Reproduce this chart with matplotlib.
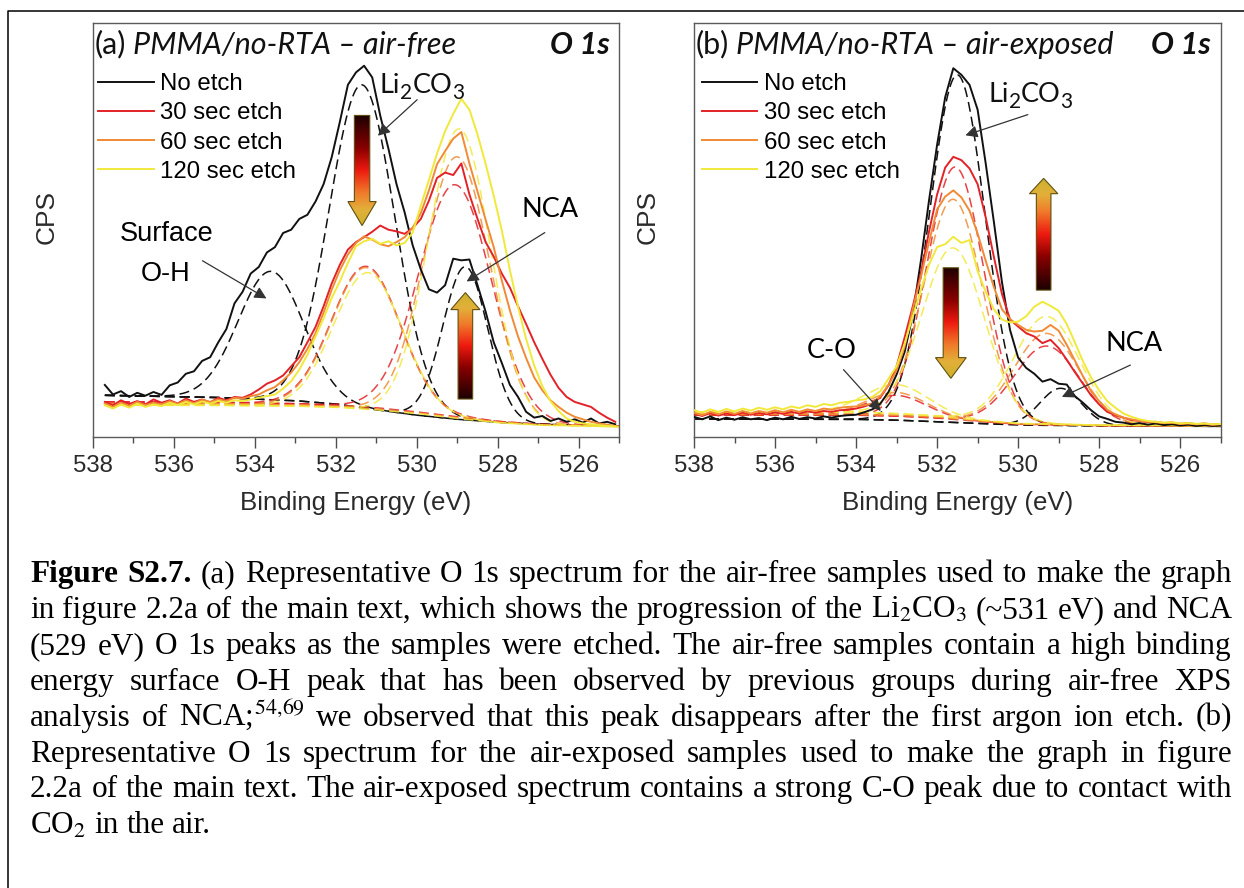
import matplotlib
matplotlib.use("Agg")
import matplotlib.pyplot as plt
import numpy as np
from matplotlib.colors import LinearSegmentedColormap
from matplotlib.lines import Line2D
from matplotlib.patches import Polygon
from matplotlib.ticker import MultipleLocator

W, H = 1244, 888

# energy axes, 0.2 eV acquisition step
EV_A = np.round(np.arange(537.7, 525.0, -0.2), 1)
EV_B = np.round(np.arange(538.0, 524.9, -0.2), 1)

LABELS = ["No etch", "30 sec etch", "60 sec etch", "120 sec etch"]
COLORS = ["#111111", "#e32228", "#f08a35", "#f1e93a"]

# (a) air-free, CPS in arbitrary units (0 = axis, 100 = top)
NOETCH_A = [12.5, 10.2, 11.0, 9.6, 10.6, 9.9, 10.8, 10.1, 12.4,
            13.1, 15.2, 15.8, 18.3, 19.2, 22.8, 26.0, 32.2, 35.0, 39.4,
            41.0, 44.5, 45.8, 49.2, 50.0, 52.6, 53.6, 56.8, 61.0, 67.5,
            76.0, 85.0, 88.0, 89.6, 86.8, 77.5, 69.6, 61.0, 54.2, 46.2,
            40.4, 35.6, 34.8, 36.6, 43.0, 42.6, 42.8, 36.6, 30.2, 22.8,
            17.8, 12.5, 9.6, 6.0, 4.6, 5.0, 3.8, 4.4, 3.6, 4.2,
            3.4, 4.4, 3.2, 3.6, 3.0]
ETCH30_A = [8.4, 7.6, 8.8, 7.9, 8.6, 7.8, 9.0, 8.2, 8.8,
            8.0, 9.2, 8.4, 9.0, 8.3, 9.4, 8.8, 9.6, 9.4, 10.2,
            11.4, 12.8, 13.6, 14.8, 17.0, 19.2, 22.8, 26.5, 31.5, 37.0,
            41.5, 45.2, 47.0, 48.2, 49.5, 51.0, 50.0, 49.6, 49.0, 50.4,
            52.6, 57.0, 62.5, 63.8, 63.2, 66.0, 58.5, 52.6, 47.0, 43.5,
            39.4, 36.0, 31.5, 27.2, 22.8, 18.8, 15.0, 11.8, 9.6, 8.4,
            7.8, 7.2, 5.8, 4.6, 3.6]
ETCH60_A = [8.0, 7.2, 8.2, 7.4, 8.4, 7.6, 8.2, 7.8, 8.6,
            7.9, 8.8, 8.1, 8.9, 8.4, 9.0, 8.6, 9.4, 9.2, 9.8,
            10.2, 11.2, 12.0, 13.6, 15.5, 18.0, 21.2, 25.0, 30.0, 35.5,
            40.2, 44.0, 46.8, 48.4, 47.6, 46.5, 46.0, 47.0, 48.2, 50.5,
            54.0, 59.5, 65.8, 69.0, 72.0, 73.6, 66.0, 59.2, 52.4, 45.8,
            37.7, 30.5, 24.2, 19.0, 14.3, 11.2, 8.8, 7.2, 5.8, 4.8,
            4.2, 3.6, 3.2, 2.9, 2.6]
ETCH120_A = [7.6, 6.8, 7.8, 7.0, 8.0, 7.2, 7.8, 7.4, 8.2,
             7.6, 8.4, 7.8, 8.5, 8.0, 8.6, 8.2, 8.8, 8.6, 9.0,
             9.4, 9.8, 10.2, 11.6, 13.4, 16.2, 19.8, 24.2, 28.6, 33.5,
             37.5, 42.0, 46.0, 47.2, 47.8, 46.6, 47.2, 46.2, 46.8, 49.3,
             55.8, 62.0, 68.4, 73.8, 78.0, 81.6, 79.0, 73.0, 65.9, 58.2,
             49.8, 40.2, 31.4, 23.6, 17.2, 12.2, 8.6, 6.2, 4.4, 3.6,
             3.2, 3.0, 2.8, 2.6, 2.5]

# (b) air-exposed
NOETCH_B = [4.8, 4.2, 4.9, 4.0, 4.6, 4.1, 4.7, 4.2, 4.5, 4.0,
            4.6, 4.2, 4.8, 4.3, 4.7, 4.4, 4.9, 4.6, 5.0, 5.2,
            5.3, 5.9, 6.6, 8.0, 10.8, 15.0, 20.5, 29.5, 42.5, 57.0,
            70.5, 82.0, 89.0, 87.4, 85.0, 79.0, 66.0, 52.0, 37.4, 25.8,
            19.1, 16.6, 15.2, 13.3, 13.9, 12.8, 12.6, 9.8, 8.2, 6.4,
            4.9, 4.3, 3.6, 3.4, 3.0, 3.3, 2.9, 3.2, 2.8, 3.0,
            2.7, 2.9, 2.6, 2.8, 2.6, 2.7]
ETCH30_B = [5.6, 5.0, 5.7, 5.1, 5.6, 5.2, 5.8, 5.3, 5.7, 5.4,
            5.9, 5.5, 6.0, 5.6, 6.1, 5.8, 6.2, 6.0, 6.4, 6.5,
            6.8, 7.3, 8.0, 9.5, 12.4, 17.0, 24.0, 31.5, 39.5, 49.5,
            58.5, 65.0, 67.6, 66.8, 64.8, 61.0, 53.0, 43.5, 34.5, 28.3,
            26.6, 25.0, 24.2, 22.6, 23.4, 21.4, 18.6, 15.6, 12.8, 10.0,
            7.8, 6.0, 5.2, 4.6, 4.0, 3.8, 3.5, 3.6, 3.3, 3.4,
            3.1, 3.3, 3.0, 3.2, 2.9, 3.1]
ETCH60_B = [5.8, 5.2, 6.0, 5.4, 6.1, 5.5, 6.2, 5.6, 6.2, 5.8,
            6.4, 5.9, 6.5, 6.0, 6.6, 6.2, 6.8, 6.5, 7.0, 7.2,
            7.3, 7.6, 8.0, 9.8, 12.5, 16.0, 21.8, 30.8, 38.6, 47.0,
            54.9, 58.0, 59.5, 57.8, 54.6, 49.1, 42.5, 36.2, 30.8, 28.4,
            27.0, 25.8, 25.4, 25.6, 27.0, 25.6, 22.2, 18.4, 14.6, 11.0,
            8.6, 6.5, 5.4, 4.6, 4.2, 3.8, 3.6, 3.5, 3.3, 3.4,
            3.1, 3.2, 3.0, 3.1, 2.9, 3.0]
ETCH120_B = [6.4, 5.8, 6.6, 6.0, 6.7, 6.1, 6.8, 6.3, 7.0, 6.5,
             7.1, 6.6, 7.3, 6.9, 7.6, 7.2, 7.9, 7.6, 8.2, 8.4,
             8.8, 9.0, 9.6, 11.0, 14.0, 17.0, 22.5, 29.1, 35.5, 41.5,
             45.8, 46.5, 48.3, 46.8, 47.5, 40.0, 35.0, 30.8, 28.3, 27.6,
             27.8, 29.1, 31.4, 32.6, 31.6, 30.4, 27.2, 22.8, 18.2, 14.3,
             11.2, 8.6, 7.0, 5.6, 4.8, 4.2, 3.8, 3.6, 3.4, 3.5,
             3.2, 3.3, 3.1, 3.2, 3.0, 3.1]

# fit backgrounds (knots) and components: (centre eV, height, FWHM eV)
BG_A_EV = [537.7, 535.0, 533.0, 532.0, 531.0, 530.0, 529.0, 528.0, 527.0, 525.0]
BG_A_NOETCH = [10.0, 9.5, 8.7, 7.9, 6.5, 5.2, 4.2, 3.5, 3.0, 2.6]
BG_A_30 = [8.4, 8.3, 8.0, 7.6, 7.0, 6.0, 4.8, 3.7, 3.0, 2.6]
BG_A_60 = [8.0, 7.9, 7.7, 7.3, 6.7, 5.8, 4.6, 3.5, 2.9, 2.5]
BG_A_120 = [7.6, 7.6, 7.4, 7.1, 6.5, 5.6, 4.4, 3.4, 2.8, 2.4]
FIT_A_NOETCH = [(533.6, 31.0, 1.9), (531.35, 78.0, 1.9), (528.8, 37.0, 1.3)]
FIT_A_30 = [(531.25, 34.0, 2.0), (529.05, 56.0, 2.1)]
FIT_A_60 = [(531.25, 34.0, 2.0), (529.0, 63.0, 1.9)]
FIT_A_120 = [(531.2, 33.0, 2.0), (528.95, 70.0, 1.8)]

BG_B_EV = [538.0, 534.0, 533.0, 532.0, 531.0, 530.0, 528.0, 525.0]
BG_B_NOETCH = [4.3, 4.2, 4.0, 3.6, 3.2, 2.8, 2.6, 2.5]
BG_B_30 = [5.2, 5.2, 5.0, 4.5, 3.7, 3.0, 2.7, 2.6]
BG_B_60 = [5.4, 5.4, 5.2, 4.7, 3.8, 3.1, 2.7, 2.6]
BG_B_120 = [6.0, 6.0, 5.6, 5.0, 4.0, 3.2, 2.8, 2.7]
FIT_B_NOETCH = [(531.5, 84.0, 1.6), (528.95, 9.0, 1.2)]
FIT_B_30 = [(533.0, 5.0, 1.7), (531.55, 61.0, 1.65), (529.3, 19.0, 1.9)]
FIT_B_60 = [(533.0, 5.5, 1.7), (531.6, 53.0, 1.7), (529.3, 22.0, 1.9)]
FIT_B_120 = [(533.0, 7.0, 1.8), (531.6, 41.0, 1.8), (529.3, 26.0, 1.9)]

CAPTION = [
    "Figure S2.7. (a) Representative O 1s spectrum for the air-free samples used to make the graph",
    r"in figure 2.2a of the main text, which shows the progression of the Li$_2$CO$_3$ (~531 eV) and NCA",
    "(529 eV) O 1s peaks as the samples were etched. The air-free samples contain a high binding",
    "energy surface O-H peak that has been observed by previous groups during air-free XPS",
    r"analysis of NCA;$^{54,\!69}$ we observed that this peak disappears after the first argon ion etch. (b)",
    "Representative O 1s spectrum for the air-exposed samples used to make the graph in figure",
    "2.2a of the main text. The air-exposed spectrum contains a strong C-O peak due to contact with",
    r"CO$_2$ in the air.",
]
BOLD_WORDS = {"Figure", "S2.7."}

SANS = "Liberation Sans"
CAL = "Lato"
DASH = (0, (6.5, 3.3))
ARROW_CMAP = LinearSegmentedColormap.from_list(
    "etch", [(0.0, "#1c0000"), (0.3, "#8a0000"), (0.5, "#ee1a10"),
             (0.7, "#f07a2a"), (0.85, "#e2b03a"), (1.0, "#cdb02c")])


def gauss(x, c, h, w):
    return h * np.exp(-4 * np.log(2) * ((x - c) / w) ** 2)


def grad_arrow(ax, x, y_tail, y_tip, y_head, hw_shaft, hw_head):
    verts = [(x - hw_shaft, y_tail), (x + hw_shaft, y_tail), (x + hw_shaft, y_head),
             (x + hw_head, y_head), (x, y_tip), (x - hw_head, y_head), (x - hw_shaft, y_head)]
    poly = Polygon(verts, closed=True, fc="none", ec="#5f5010", lw=0.8, zorder=6)
    ax.add_patch(poly)
    ramp = np.linspace(0, 1, 256).reshape(-1, 1)
    origin = "upper" if y_tail > y_tip else "lower"
    img = ax.imshow(ramp, cmap=ARROW_CMAP, origin=origin, aspect="auto", zorder=5,
                    extent=(x + hw_head, x - hw_head, min(y_tail, y_tip), max(y_tail, y_tip)))
    img.set_clip_path(poly)


def pointer(ax, text_xy, tip_xy):
    ax.annotate("", xy=tip_xy, xytext=text_xy, zorder=8,
                arrowprops=dict(arrowstyle="-|>,head_length=0.55,head_width=0.28",
                                color="#333333", lw=0.9, mutation_scale=13,
                                shrinkA=0, shrinkB=0))


def rich(ax, x, y, runs, coords="data", **kw):
    """Runs of (text, size, drop_pt, style) laid on one baseline."""
    text, size, drop, style = runs[0]
    tr = ax.transAxes if coords == "axes fraction" else ax.transData
    prev = ax.text(x, y, text, transform=tr, fontsize=size, style=style,
                   va="baseline", ha="left", zorder=9, **kw)
    for text, size, drop, style in runs[1:]:
        gap = 5 if style == "italic" and prev.get_style() == "normal" else 0
        prev = ax.annotate(text, xy=(1, y), xycoords=(prev, coords),
                           xytext=(gap, -drop), textcoords="offset points",
                           fontsize=size, style=style, va="baseline", ha="left",
                           zorder=9, **kw)


def draw_panel(ax, ev, spectra, bg_ev, bgs, fits, x_lo, x_hi):
    xf = np.linspace(x_lo, x_hi, 500)
    for bg_vals, comps, color in zip(bgs, fits, COLORS):
        bg = np.interp(xf[::-1], bg_ev[::-1], bg_vals[::-1])[::-1]
        alpha = 0.85 if color != COLORS[0] else 1.0
        ax.plot(xf, bg, ls=DASH, lw=1.1, color=color, alpha=alpha, zorder=2)
        for c, h, w in comps:
            ax.plot(xf, bg + gauss(xf, c, h, w), ls=DASH, lw=1.1, color=color,
                    alpha=alpha, zorder=2)
    handles = []
    for spec, color, label in zip(spectra, COLORS, LABELS):
        ln, = ax.plot(ev, spec, color=color, lw=1.4, label=label, zorder=3)
        handles.append(ln)
    return handles


def style_axes(ax, tag, title, legend_x, handles):
    ax.set_xlim(538, 525)
    ax.set_ylim(0, 100)
    ax.set_yticks([])
    ax.xaxis.set_major_locator(MultipleLocator(2))
    ax.xaxis.set_minor_locator(MultipleLocator(1))
    ax.tick_params(axis="x", which="major", direction="out", length=8, width=1.0,
                   color="#4d4d4d", pad=5, labelsize=17.3, labelcolor="#2a2a2a")
    ax.tick_params(axis="x", which="minor", direction="out", length=4.5, width=1.0,
                   color="#4d4d4d")
    for lab in ax.get_xticklabels():
        lab.set_fontfamily(SANS)
    for sp in ax.spines.values():
        sp.set_color("#5a5a5a")
        sp.set_linewidth(1.0)
    ax.set_xlabel("Binding Energy (eV)", fontsize=18.6, family=SANS, color="#2a2a2a",
                  labelpad=10)
    ax.set_ylabel("CPS", fontsize=19, family=SANS, color="#2a2a2a")
    ax.yaxis.set_label_coords(-0.088, 0.53)
    ax.yaxis.label.set_verticalalignment("center")

    rich(ax, 0.004, 0.925, [(tag, 22, 0, "normal"), (title, 22, 0, "italic")],
         coords="axes fraction", family=CAL, color="#111111")
    ax.text(0.981, 0.925, "O 1s", transform=ax.transAxes, ha="right", va="baseline",
            family=CAL, fontsize=22, fontweight="bold", style="italic", color="#111111")
    ax.legend(handles=handles, loc="upper left", bbox_to_anchor=(legend_x, 0.878),
              frameon=False, borderpad=0, borderaxespad=0, handlelength=2.3,
              handletextpad=0.28, labelspacing=0.3,
              prop={"family": SANS, "size": 17.3})


def li2co3(ax, x, y):
    rich(ax, x, y, [("Li", 19.5, 0, "normal"), ("2", 15, 4.5, "normal"),
                    ("CO", 19.5, 0, "normal"), ("3", 15, 4.5, "normal")],
         family=CAL, color="#111111")


fig = plt.figure(figsize=(W / 100, H / 100), dpi=100)
ax_a = fig.add_axes([92.7 / W, 1 - 436.7 / H, 526.6 / W, 414 / H])
ax_b = fig.add_axes([694 / W, 1 - 436.7 / H, 526.7 / W, 414 / H])

h_a = draw_panel(ax_a, EV_A, [NOETCH_A, ETCH30_A, ETCH60_A, ETCH120_A], BG_A_EV,
                 [BG_A_NOETCH, BG_A_30, BG_A_60, BG_A_120],
                 [FIT_A_NOETCH, FIT_A_30, FIT_A_60, FIT_A_120], 537.7, 525.0)
h_b = draw_panel(ax_b, EV_B, [NOETCH_B, ETCH30_B, ETCH60_B, ETCH120_B], BG_B_EV,
                 [BG_B_NOETCH, BG_B_30, BG_B_60, BG_B_120],
                 [FIT_B_NOETCH, FIT_B_30, FIT_B_60, FIT_B_120], 538.0, 525.0)

# gradient arrows
grad_arrow(ax_a, 531.35, 77.6, 51.0, 56.8, 0.19, 0.35)
grad_arrow(ax_a, 528.80, 9.1, 34.8, 30.7, 0.18, 0.36)
grad_arrow(ax_b, 531.66, 40.8, 14.1, 19.1, 0.19, 0.38)
grad_arrow(ax_b, 529.37, 35.4, 62.4, 58.7, 0.18, 0.35)

style_axes(ax_a, "(a)", "PMMA/no-RTA \u2013 air-free", 0.0106, h_a)
style_axes(ax_b, "(b)", "PMMA/no-RTA \u2013 air-exposed", 0.0144, h_b)

# peak labels
li2co3(ax_a, 530.91, 83.0)
pointer(ax_a, (529.99, 81.4), (530.96, 72.7))
ax_a.text(526.70, 54.9, "NCA", family=CAL, fontsize=19.5, va="center", ha="center", zorder=9)
pointer(ax_a, (526.84, 49.3), (528.77, 37.5))
ax_a.text(536.17, 48.9, "Surface", family=SANS, fontsize=19.5, va="center", ha="center", zorder=9)
ax_a.text(536.20, 39.4, "O-H", family=SANS, fontsize=19.5, va="center", ha="center", zorder=9)
pointer(ax_a, (535.29, 42.5), (533.71, 33.4))

li2co3(ax_b, 530.74, 80.8)
pointer(ax_b, (529.76, 77.8), (531.30, 72.8))
ax_b.text(527.14, 22.5, "NCA", family=CAL, fontsize=19.5, va="center", ha="center", zorder=9)
pointer(ax_b, (527.23, 17.3), (528.92, 9.6))
ax_b.text(534.61, 20.8, "C-O", family=CAL, fontsize=19.5, va="center", ha="center", zorder=9)
pointer(ax_b, (534.31, 16.2), (533.39, 6.2))

# page frame
fig.add_artist(Line2D([8.3 / W, 8.3 / W, 1.0], [0.0, 1 - 11 / H, 1 - 11 / H],
                      transform=fig.transFigure, color="black", lw=1.1))

# justified caption; font size chosen so the widest line fits the text block
renderer = fig.canvas.get_renderer()
x0, x1 = 30.0, 1232.0


def caption_words(line, i, size):
    texts, widths = [], []
    for w in line.split(" "):
        weight = "bold" if (i == 0 and w in BOLD_WORDS) else "normal"
        t = fig.text(0, 0, w, fontsize=size, family="Liberation Serif", weight=weight,
                     va="baseline", ha="left", math_fontfamily="stix")
        texts.append(t)
        widths.append(t.get_window_extent(renderer).width)
    return texts, widths


probe = 20.0
natural = []
for i, line in enumerate(CAPTION[:-1]):
    texts, widths = caption_words(line, i, probe)
    natural.append(sum(widths) + 0.25 * probe * 100 / 72 * (len(widths) - 1))
    for t in texts:
        t.remove()
CAP_FS = probe * (x1 - x0 - 6) / max(natural)

for i, line in enumerate(CAPTION):
    y = 1 - (582 + i * 35.9) / H
    texts, widths = caption_words(line, i, CAP_FS)
    if i < len(CAPTION) - 1:
        gap = (x1 - x0 - sum(widths)) / (len(widths) - 1)
    else:
        gap = 0.25 * CAP_FS * 100 / 72
    x = x0
    for t, wd in zip(texts, widths):
        t.set_position((x / W, y))
        x += wd + gap

fig.savefig("out.png", dpi=100)
